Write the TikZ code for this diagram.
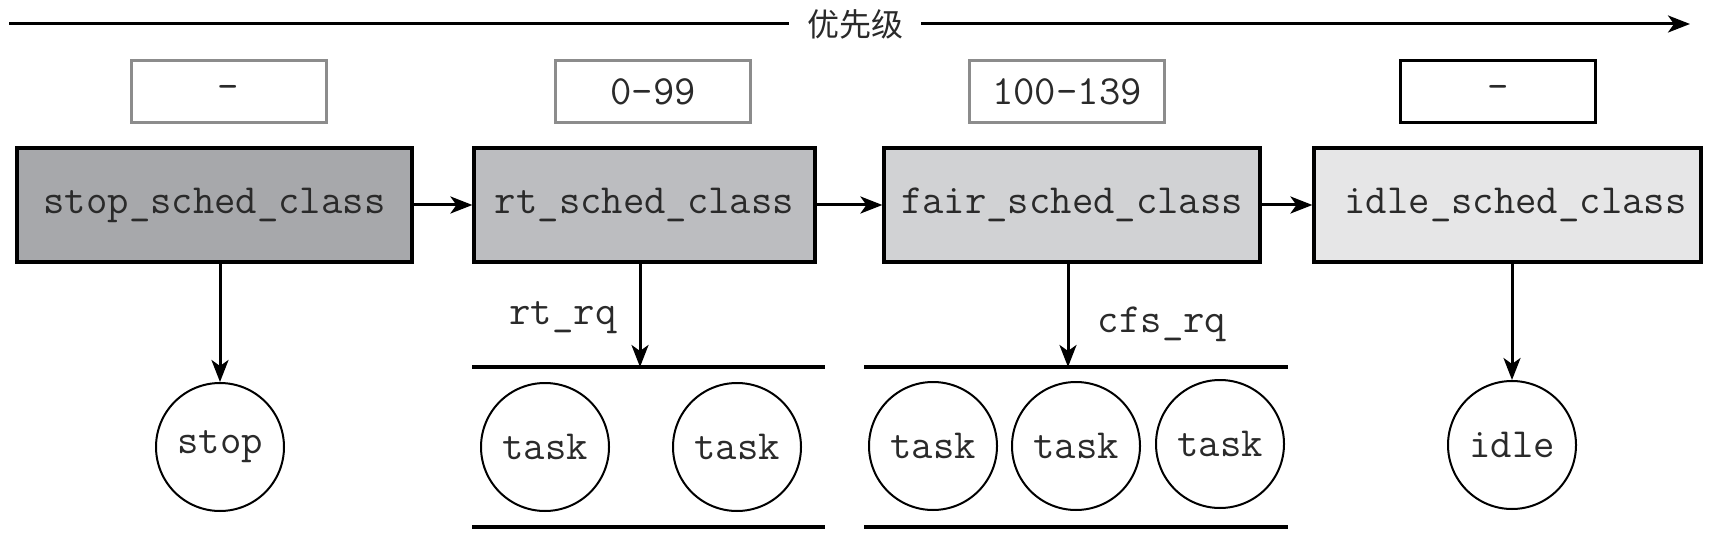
\documentclass[tikz,border=0pt]{standalone}
\usepackage{fontspec}
\newfontfamily\cjk{Noto Sans CJK SC}
\usetikzlibrary{arrows.meta}
\definecolor{cstop}{HTML}{A7A8AB}
\definecolor{crt}{HTML}{BCBDC0}
\definecolor{cfair}{HTML}{D1D2D4}
\definecolor{cidle}{HTML}{E6E6E7}
\definecolor{rgray}{HTML}{8C8C8C}
\definecolor{txt}{HTML}{2A2A2A}
\tikzset{
  mono/.style={font=\fontsize{41.5}{44}\selectfont\ttfamily, text=txt},
  cls/.style={mono, draw=black, line width=3.2pt, minimum height=114pt, inner sep=0pt},
  rng/.style={mono, draw=rgray, line width=3pt, minimum height=62pt, minimum width=195pt, inner sep=0pt, fill=white},
  tsk/.style={mono, draw=black, line width=2pt, circle, minimum size=128pt, inner sep=0pt},
  arr/.style={line width=3pt, -{Stealth[length=22pt,width=17pt,inset=6pt]}},
  qline/.style={line width=3.8pt},
}
\begin{document}
\begin{tikzpicture}[x=1pt,y=-1pt]
\useasboundingbox (0,0) rectangle (1718,548);
% priority axis
\coordinate (pl) at (9,24);
\coordinate (pr) at (1690,24);
\node[font=\fontsize{32}{36}\selectfont\cjk, text=txt, inner xsep=18pt, inner ysep=0pt] (prio) at (855,24) {优先级};
\draw[line width=3pt] (pl) -- (prio.west);
\draw[arr] (prio.east) -- (pr);
% range boxes
\node[rng] (r1) at (228.5,92) {-};
\node[rng] (r2) at (653,92) {0-99};
\node[rng] (r3) at (1067,92) {100-139};
\node[rng, draw=black] (r4) at (1498,92) {-};
% class boxes
\node[cls, fill=cstop, minimum width=395pt] (s) at (214.5,205) {stop\_sched\_class};
\node[cls, fill=crt, minimum width=341pt] (rt) at (644.5,205) {rt\_sched\_class};
\node[cls, fill=cfair, minimum width=376pt] (fa) at (1072,205) {fair\_sched\_class};
\node[cls, fill=cidle, minimum width=387pt] (id) at (1507.5,205) {\hspace{16pt}idle\_sched\_class};
\draw[arr] (s) -- (rt);
\draw[arr] (rt) -- (fa);
\draw[arr] (fa) -- (id);
% queues
\coordinate (rtq) at (640,367);
\coordinate (rtql) at (472,367);
\coordinate (rtqr) at (825,367);
\coordinate (rtbl) at (472,527);
\coordinate (rtbr) at (825,527);
\coordinate (cfq) at (1068,367);
\coordinate (cfql) at (864,367);
\coordinate (cfqr) at (1288,367);
\coordinate (cfbl) at (864,527);
\coordinate (cfbr) at (1288,527);
\draw[qline] (rtql) -- (rtqr);
\draw[qline] (rtbl) -- (rtbr);
\draw[qline] (cfql) -- (cfqr);
\draw[qline] (cfbl) -- (cfbr);
% task circles
\node[tsk] (st) at (220,447) {stop};
\node[tsk] (t1) at (545,447) {task};
\node[tsk] (t2) at (737,447) {task};
\node[tsk] (t3) at (933,446) {task};
\node[tsk] (t4) at (1076,446) {task};
\node[tsk] (t5) at (1220,444) {task};
\node[tsk] (il) at (1512,445) {idle};
% down arrows
\draw[arr] (s.south -| st.north) -- (st.north);
\draw[arr] (rt.south -| rtq) -- (rtq);
\draw[arr] (fa.south -| cfq) -- (cfq);
\draw[arr] (id.south -| il.north) -- (il.north);
% labels
\node[mono, inner sep=0pt] (lrt) at (563,318) {rt\_rq};
\node[mono, inner sep=0pt] (lcf) at (1162,324) {cfs\_rq};
\end{tikzpicture}
\end{document}
